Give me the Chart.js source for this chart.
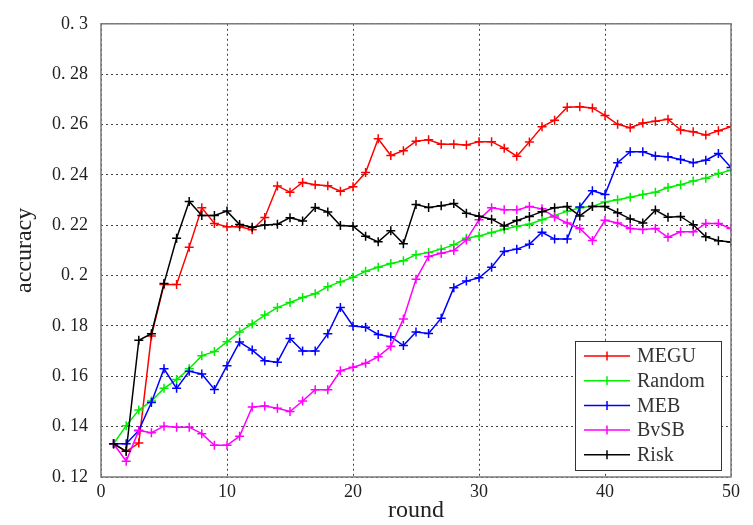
<!DOCTYPE html>
<html>
<head>
<meta charset="utf-8">
<script src="https://cdn.jsdelivr.net/npm/chart.js@4"></script>
<style>
html,body{margin:0;padding:0;background:#fff;}
#wrap{width:753px;height:525px;position:relative;}
</style>
</head>
<body>
<div id="wrap"><canvas id="c" width="753" height="525"></canvas></div>
<script>
const rounds = Array.from({length:50},(_,i)=>i+1);
const seriesNames = ['MEGU','Random','MEB','BvSB','Risk'];
const megu = [0.1332,0.1302,0.1335,0.176,0.1965,0.1965,0.2113,0.2269,0.2207,0.2194,
0.2194,0.2182,0.2231,0.2356,0.2331,0.237,0.2361,0.2357,0.2335,0.2353,
0.2409,0.2543,0.2477,0.2496,0.2534,0.2539,0.2522,0.2522,0.2519,0.2532,
0.2532,0.2506,0.2474,0.2531,0.2591,0.2617,0.2669,0.2671,0.2666,0.2636,
0.2601,0.2587,0.2606,0.2613,0.2621,0.2578,0.2571,0.2558,0.2575,0.2591];
const random = [0.1332,0.1404,0.1466,0.1502,0.1552,0.1587,0.163,0.1682,0.1698,0.1737,
0.1776,0.1808,0.1843,0.1873,0.1893,0.1913,0.1928,0.1956,0.1975,0.1993,
0.2017,0.2033,0.2048,0.2059,0.2083,0.2092,0.2105,0.2122,0.2148,0.2157,
0.2171,0.2184,0.2196,0.2204,0.2222,0.2239,0.2255,0.2269,0.2275,0.2292,
0.2301,0.2311,0.2322,0.2331,0.235,0.2361,0.2376,0.2387,0.2405,0.2418];
const meb = [0.1332,0.1332,0.1385,0.1496,0.163,0.1552,0.162,0.1609,0.1548,0.1642,
0.1736,0.1704,0.1662,0.1656,0.175,0.170,0.170,0.1769,0.1873,0.180,
0.1795,0.1766,0.1757,0.1722,0.1776,0.177,0.1831,0.1952,0.1978,0.1991,
0.2033,0.2096,0.2105,0.2124,0.2172,0.2145,0.2145,0.2272,0.2337,0.2322,
0.2448,0.2492,0.2492,0.2475,0.2472,0.2461,0.2448,0.2458,0.2485,0.2429];
const bvsb = [0.1332,0.1263,0.1385,0.1376,0.1402,0.1398,0.1398,0.1372,0.1326,0.1326,
0.1362,0.1478,0.1482,0.1473,0.146,0.1502,0.1547,0.1547,0.1622,0.1636,
0.1652,0.1678,0.1719,0.1828,0.1985,0.2076,0.2089,0.21,0.2141,0.2222,
0.2269,0.2261,0.2261,0.2274,0.2265,0.2233,0.2209,0.2187,0.2139,0.222,
0.2209,0.2187,0.2183,0.2187,0.2152,0.2174,0.2174,0.2207,0.2207,0.2187];
const risk = [0.1332,0.1302,0.1743,0.1769,0.1969,0.2148,0.2294,0.2239,0.2239,0.2256,
0.2203,0.2192,0.2201,0.2204,0.223,0.2217,0.227,0.2253,0.2199,0.2196,
0.2156,0.2134,0.2178,0.2126,0.2282,0.227,0.2277,0.2286,0.2248,0.2236,
0.2224,0.2197,0.2219,0.2235,0.2254,0.2269,0.2274,0.2237,0.2274,0.2274,
0.225,0.2225,0.2209,0.226,0.2232,0.2235,0.2202,0.2154,0.2138,0.2133];
const yTickLabels = ['0. 12','0. 14','0. 16','0. 18','0. 2','0. 22','0. 24','0. 26','0. 28','0. 3'];
const xTickLabels = ['0','10','20','30','40','50'];
const colors = ['#ff0000','#00ee00','#0000ff','#ff00ff','#000000'];
const allSeries = [megu, random, meb, bvsb, risk];

const datasets = allSeries.map((vals, i) => ({
  label: seriesNames[i],
  data: vals.map((v, j) => ({x: rounds[j], y: v})),
  borderColor: colors[i],
  backgroundColor: colors[i],
  borderWidth: 1.5,
  pointStyle: 'cross',
  pointRadius: 4.5,
  pointBorderWidth: 1.5,
  pointHoverRadius: 4.5,
  tension: 0,
  fill: false,
  order: 5 - i
}));

const frameLegend = {
  id: 'frameLegend',
  afterDraw(chart) {
    const ctx = chart.ctx, a = chart.chartArea;
    ctx.save();
    ctx.strokeStyle = '#7a7a7a';
    ctx.lineWidth = 1.5;
    ctx.strokeRect(a.left, a.top, a.right - a.left, a.bottom - a.top);
    // legend
    const w = 146, h = 129;
    const x0 = a.right - 10 - w, y0 = a.bottom - 7 - h;
    ctx.fillStyle = '#fff';
    ctx.fillRect(x0, y0, w, h);
    ctx.strokeStyle = '#333';
    ctx.lineWidth = 1;
    ctx.strokeRect(x0 + 0.5, y0 + 0.5, w, h);
    ctx.font = '20px "Liberation Serif"';
    ctx.textBaseline = 'middle';
    chart.data.datasets.forEach((ds, i) => {
      const yy = y0 + 15 + i * 24.7;
      ctx.strokeStyle = ds.borderColor;
      ctx.lineWidth = 1.5;
      ctx.beginPath();
      ctx.moveTo(x0 + 9, yy); ctx.lineTo(x0 + 55, yy);
      ctx.moveTo(x0 + 32, yy - 4.5); ctx.lineTo(x0 + 32, yy + 4.5);
      ctx.stroke();
      ctx.fillStyle = '#333';
      ctx.fillText(ds.label, x0 + 62, yy + 1);
    });
    ctx.restore();
  }
};

new Chart(document.getElementById('c'), {
  type: 'line',
  data: { datasets },
  plugins: [frameLegend],
  options: {
    responsive: false,
    animation: false,
    events: [],
    layout: { padding: { left: 0, right: 22, top: 16, bottom: 0 } },
    plugins: { legend: { display: false }, tooltip: { enabled: false } },
    scales: {
      x: {
        type: 'linear', min: 0, max: 50,
        ticks: {
          stepSize: 10, padding: 4, color: '#222', maxRotation: 0,
          font: { family: '"Liberation Serif"', size: 18 },
          callback: (v) => xTickLabels[Math.round(v / 10)] ?? ''
        },
        grid: { color: '#444', lineWidth: 1, drawTicks: false, tickBorderDash: [2,3] },
        border: { display: false, dash: [2, 3] },
        title: { display: true, text: 'round', color: '#222', padding: { top: 0, bottom: 0 },
          font: { family: '"Liberation Serif"', size: 24 } },
        afterFit: (s) => { s.height = 48; }
      },
      y: {
        type: 'linear', min: 0.12, max: 0.3,
        ticks: {
          stepSize: 0.02, padding: 13, color: '#222',
          font: { family: '"Liberation Serif"', size: 18 },
          callback: (v) => yTickLabels[Math.round((v - 0.12) / 0.02)] ?? ''
        },
        grid: { color: '#444', lineWidth: 1, drawTicks: false },
        border: { display: false, dash: [2, 3] },
        title: { display: true, text: 'accuracy', color: '#222', padding: { top: 10, bottom: 0 },
          font: { family: '"Liberation Serif"', size: 24 } },
        afterFit: (s) => { s.width = 101; }
      }
    }
  }
});
</script>
</body>
</html>
